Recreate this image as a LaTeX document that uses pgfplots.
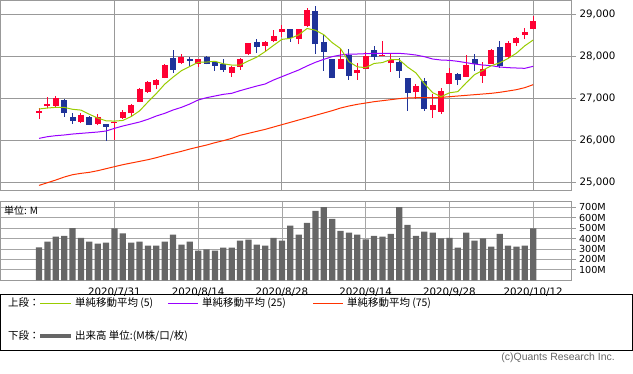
\documentclass[border=0pt]{standalone}
\usepackage{fontspec}
\setmainfont{DejaVu Sans}
\newfontfamily\jp{Noto Sans CJK JP}
\newfontfamily\lib{Liberation Sans}
\usepackage{pgfplots}
\pgfplotsset{compat=1.18}
\usepackage{pgfplotstable}
\definecolor{cred}{HTML}{FF0033}
\definecolor{cblue}{HTML}{1F3399}
\definecolor{sfive}{HTML}{99CC00}
\definecolor{stwfive}{HTML}{9900FF}
\definecolor{sseven}{HTML}{FF3300}
\definecolor{volgray}{HTML}{666666}
\definecolor{gridgray}{HTML}{999999}
\definecolor{vgrid}{HTML}{A6A6A6}

\pgfplotstableread{
i O H L C
0 26658 26761 26515 26698
1 26817 27031 26761 26865
2 26825 27055 26785 27008
5 26436 26642 26412 26603
7 26389 26627 26357 26555
9 26405 26444 26008 26440
10 26531 26722 26515 26674
11 26650 26857 26579 26841
12 26920 27238 26912 27222
13 27158 27412 27135 27389
14 27317 27460 27222 27436
15 27492 27817 27476 27793
17 27841 28055 27817 27984
19 27825 27944 27754 27928
23 27611 27762 27515 27746
24 27754 27960 27682 27928
25 28055 28325 28031 28317
27 28246 28365 28127 28341
28 28365 28627 28333 28484
29 28587 28746 28468 28650
31 28420 28650 28285 28643
32 28722 29150 28690 29103
36 27706 28206 27698 27928
38 27611 27833 27444 27682
39 27706 28111 27698 28008
41 28000 28373 28000 28040
42 27833 28071 27635 27912
45 27150 27341 26992 27293
47 26714 27095 26539 26833
48 26682 27238 26627 27174
49 27349 27722 27341 27603
51 27516 28031 27508 27793
53 27539 27865 27373 27698
54 27825 28174 27809 28150
56 27976 28365 27952 28317
57 28317 28460 28254 28436
58 28516 28674 28412 28579
59 28650 28968 28643 28841
}\redtab

\pgfplotstableread{
i O H L C
3 26960 26984 26563 26658
4 26555 26642 26389 26468
6 26563 26579 26365 26373
8 26389 26389 25992 26325
16 27960 28150 27611 27682
18 27936 27992 27777 27896
20 27976 28008 27809 27825
21 27873 27897 27658 27777
22 27817 27936 27635 27682
26 28341 28404 28087 28230
30 28643 28650 28349 28428
33 29071 29198 28063 28285
34 28333 28508 27658 28111
35 27928 27936 27476 27492
37 28024 28174 27444 27539
40 28150 28254 27912 27992
43 27873 27952 27492 27658
44 27476 27484 26706 27135
46 27412 27476 26706 26754
50 27579 27611 27317 27436
52 27928 28055 27650 27809
55 28214 28365 27730 27769
}\bluetab

\pgfplotstableread{
i s5 s25 s75
0 26746 26047 24928
1 26769 26087 24991
2 26785 26111 25055
3 26785 26127 25126
4 26739 26150 25182
5 26720 26166 25214
6 26622 26182 25238
7 26531 26198 25277
8 26465 26222 25325
9 26458 26285 25373
10 26473 26341 25420
11 26566 26388 25460
12 26700 26436 25499
13 26912 26500 25539
14 27112 26579 25587
15 27336 26642 25642
16 27504 26722 25690
17 27657 26785 25738
18 27758 26865 25793
19 27857 26960 25841
20 27863 27015 25888
21 27882 27055 25944
22 27822 27095 25992
23 27792 27119 26047
24 27792 27182 26119
25 27890 27238 26166
26 27981 27293 26214
27 28112 27341 26261
28 28260 27436 26317
29 28404 27516 26373
30 28427 27595 26428
31 28509 27674 26484
32 28662 27770 26539
33 28622 27857 26595
34 28514 27928 26650
35 28327 27992 26706
36 28184 28031 26769
37 27871 28055 26817
38 27750 28055 26857
39 27730 28063 26888
40 27830 28071 26920
41 27851 28071 26944
42 27925 28071 26968
43 27920 28071 26992
44 27746 28055 27008
45 27606 28031 27015
46 27350 27992 27015
47 27135 27936 27015
48 27038 27912 27023
49 27131 27904 27039
50 27160 27881 27055
51 27368 27849 27071
52 27563 27817 27087
53 27668 27793 27103
54 27777 27777 27119
55 27844 27746 27143
56 27949 27730 27174
57 28074 27722 27206
58 28250 27714 27254
59 28388 27762 27325
}\matab

\pgfplotstableread{
i v
0 315
1 369
2 417
3 426
4 500
5 407
6 369
7 350
8 360
9 496
10 449
11 360
12 369
13 331
14 331
15 369
16 436
17 341
18 369
19 284
20 296
21 284
22 312
23 312
24 379
25 388
26 341
27 331
28 407
29 379
30 522
31 436
32 550
33 665
34 700
35 588
36 474
37 455
38 436
39 392
40 426
41 417
42 445
43 700
44 531
45 426
46 465
47 455
48 401
49 407
50 312
51 455
52 379
53 401
54 322
55 445
56 331
57 322
58 331
59 496
}\voltab

\begin{document}
\begin{tikzpicture}[x=1bp,y=1bp]
\path[use as bounding box] (0,0) rectangle (633,373);

% ---------- price panel ----------
\begin{axis}[
  at={(0.5bp,182.67bp)}, anchor=south west,
  scale only axis, width=571bp, height=189.67bp,
  xmin=-4.6, xmax=63.58, ymin=24810, ymax=29325,
  axis line style={draw=gridgray, line width=1bp},
  grid=major, grid style={draw=gridgray, line width=1bp},
  xtick={9,19,29,39,49,59}, xticklabels={},
  xtick style={draw=none},
  ytick={25000,26000,27000,28000,29000},
  ytick pos=right, yticklabel pos=right,
  scaled y ticks=false,
  tick align=outside, major tick length=4.5bp,
  ytick style={draw=gridgray, line width=1bp},
  yticklabel style={font=\fontsize{10.3}{12}\selectfont, text=black,
    /pgf/number format/assume math mode=true,
    /pgf/number format/1000 sep={,}},
]
% wicks
\addplot[draw=none, mark=none, forget plot,
  error bars/.cd, y dir=plus, y explicit, error mark=none,
  error bar style={draw=cred, line width=1bp, solid}]
  table[x=i, y=L, y error plus expr=\thisrow{H}-\thisrow{L}] {\redtab};
\addplot[draw=none, mark=none, forget plot,
  error bars/.cd, y dir=plus, y explicit, error mark=none,
  error bar style={draw=cblue, line width=1bp, solid}]
  table[x=i, y=L, y error plus expr=\thisrow{H}-\thisrow{L}] {\bluetab};
% bodies
\addplot[draw=none, mark=none, forget plot,
  error bars/.cd, y dir=plus, y explicit, error mark=none,
  error bar style={draw=cred, line width=6bp, solid}]
  table[x=i, y=O, y error plus expr=\thisrow{C}-\thisrow{O}] {\redtab};
\addplot[draw=none, mark=none, forget plot,
  error bars/.cd, y dir=plus, y explicit, error mark=none,
  error bar style={draw=cblue, line width=6bp, solid}]
  table[x=i, y=C, y error plus expr=\thisrow{O}-\thisrow{C}] {\bluetab};
% moving averages
\addplot[sseven, line width=1bp, no marks] table[x=i, y=s75] {\matab};
\addplot[stwfive, line width=1bp, no marks] table[x=i, y=s25] {\matab};
\addplot[sfive, line width=1bp, no marks] table[x=i, y=s5] {\matab};
\end{axis}

% ---------- volume panel ----------
\begin{axis}[
  at={(0.5bp,92.7bp)}, anchor=south west,
  scale only axis, width=571bp, height=78.6bp,
  xmin=-4.6, xmax=63.58, ymin=0, ymax=752,
  axis line style={draw=gridgray, line width=1bp},
  grid=major, grid style={draw=vgrid, line width=0.8bp},
  xtick={9,19,29,39,49,59},
  xticklabels={2020/7/31,2020/8/14,2020/8/28,2020/9/14,2020/9/28,2020/10/12},
  xtick style={draw=none},
  xticklabel style={font=\fontsize{10.3}{12}\selectfont, text=black, anchor=north, inner sep=0pt, yshift=-3bp},
  ytick={100,200,300,400,500,600,700},
  yticklabels={100M,200M,300M,400M,500M,600M,700M},
  ytick pos=right, yticklabel pos=right,
  tick align=outside, major tick length=4bp,
  ytick style={draw=gridgray, line width=0.8bp},
  yticklabel style={font=\fontsize{9.7}{11}\selectfont, text=black},
]
\addplot[ybar, bar width=6.2bp, fill=volgray, draw=none] table[x=i, y=v] {\voltab};
\end{axis}

\node[anchor=west, inner sep=0pt, font=\jp\fontsize{10}{12}\selectfont] at (4bp,162bp) {単位: M};

% ---------- legend ----------
\draw[black, line width=1bp] (0.5,23) rectangle (632.5,79);
\begin{scope}[font=\jp\fontsize{10.5}{12}\selectfont]
\node[anchor=west, inner sep=0pt] at (8,70) {上段：};
\draw[sfive, line width=1bp] (40,70) -- (71,70);
\node[anchor=west, inner sep=0pt] at (75,70) {単純移動平均 (5)};
\draw[stwfive, line width=1bp] (168,70) -- (198,70);
\node[anchor=west, inner sep=0pt] at (202,70) {単純移動平均 (25)};
\draw[sseven, line width=1bp] (313,70) -- (343,70);
\node[anchor=west, inner sep=0pt] at (347,70) {単純移動平均 (75)};
\node[anchor=west, inner sep=0pt] at (8,37) {下段：};
\draw[volgray, line width=3.5bp] (40,37) -- (71,37);
\node[anchor=west, inner sep=0pt] at (75,37) {出来高 単位:(M株/口/枚)};
\end{scope}
\node[anchor=east, inner sep=0pt, text=volgray, font=\lib\fontsize{10.5}{12}\selectfont] at (615,15) {(c)Quants Research Inc.};
\end{tikzpicture}
\end{document}
